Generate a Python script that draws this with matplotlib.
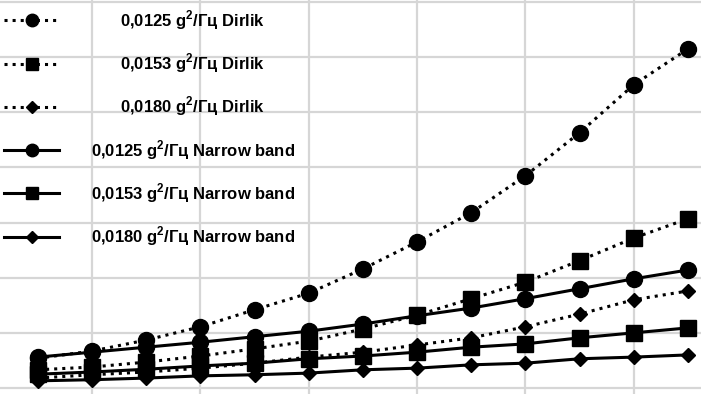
import matplotlib
matplotlib.use("Agg")
import matplotlib.pyplot as plt

# x positions (point index) and values in gridline units
x = list(range(1, 14))

dirlik_0125 = [0.54, 0.67, 0.87, 1.11, 1.42, 1.72, 2.16, 2.65, 3.18, 3.85, 4.63, 5.50, 6.15]
dirlik_0153 = [0.33, 0.38, 0.47, 0.58, 0.71, 0.85, 1.07, 1.32, 1.62, 1.92, 2.31, 2.72, 3.07]
dirlik_0180 = [0.18, 0.24, 0.29, 0.36, 0.45, 0.56, 0.65, 0.78, 0.91, 1.11, 1.34, 1.60, 1.76]
narrow_0125 = [0.56, 0.65, 0.74, 0.83, 0.93, 1.03, 1.16, 1.31, 1.45, 1.62, 1.80, 1.98, 2.14]
narrow_0153 = [0.25, 0.29, 0.34, 0.40, 0.45, 0.53, 0.58, 0.65, 0.74, 0.80, 0.91, 1.00, 1.09]
narrow_0180 = [0.13, 0.15, 0.18, 0.22, 0.24, 0.27, 0.33, 0.36, 0.42, 0.45, 0.53, 0.56, 0.60]

labels = [
    "0,0125 g$^{\\mathbf{2}}$/Гц Dirlik",
    "0,0153 g$^{\\mathbf{2}}$/Гц Dirlik",
    "0,0180 g$^{\\mathbf{2}}$/Гц Dirlik",
    "0,0125 g$^{\\mathbf{2}}$/Гц Narrow band",
    "0,0153 g$^{\\mathbf{2}}$/Гц Narrow band",
    "0,0180 g$^{\\mathbf{2}}$/Гц Narrow band",
]

plt.rcParams["font.family"] = ["Liberation Sans", "DejaVu Sans"]
plt.rcParams["mathtext.fontset"] = "custom"
plt.rcParams["mathtext.bf"] = "Liberation Sans:bold"
plt.rcParams["mathtext.rm"] = "Liberation Sans:bold"

fig = plt.figure(figsize=(7.01, 3.94), dpi=100)
ax = fig.add_axes([0, 0, 1, 1])

series = [
    (dirlik_0125, "o", ":", 11.5),
    (dirlik_0153, "s", ":", 11.5),
    (dirlik_0180, "D", ":", 7.5),
    (narrow_0125, "o", "-", 11.5),
    (narrow_0153, "s", "-", 11.5),
    (narrow_0180, "D", "-", 7.5),
]
for (vals, mk, ls, ms), lab in zip(series, labels):
    ax.plot(x, vals, color="black", linestyle=ls, linewidth=2.2,
            marker=mk, markersize=ms, label=lab, zorder=3)

ax.set_xticks(range(0, 15, 2))
ax.set_yticks(range(0, 8))
# limits after the ticks, set_ticks would widen them otherwise
ax.set_xlim(0.2985, 13.24)
ax.set_ylim(-0.109, 7.036)
ax.grid(True, color="#d6d6d6", linewidth=1.6)
ax.tick_params(length=0, labelbottom=False, labelleft=False)
for sp in ax.spines.values():
    sp.set_visible(False)

leg = ax.legend(loc="upper left", bbox_to_anchor=(0, 1 - 4 / 394),
                frameon=False, prop={"weight": "bold", "size": 12},
                handlelength=3.3, handletextpad=1.9, labelspacing=1.18,
                borderaxespad=0.0, borderpad=0.25, markerscale=0.78)

# centre the legend labels like in the original
fig.canvas.draw()
texts = leg.get_texts()
widths = [t.get_window_extent().width for t in texts]
maxw = max(widths)
for t, w in zip(texts, widths):
    t.set_x((maxw - w) / 2)

fig.savefig("out.png", dpi=100, facecolor="white")
